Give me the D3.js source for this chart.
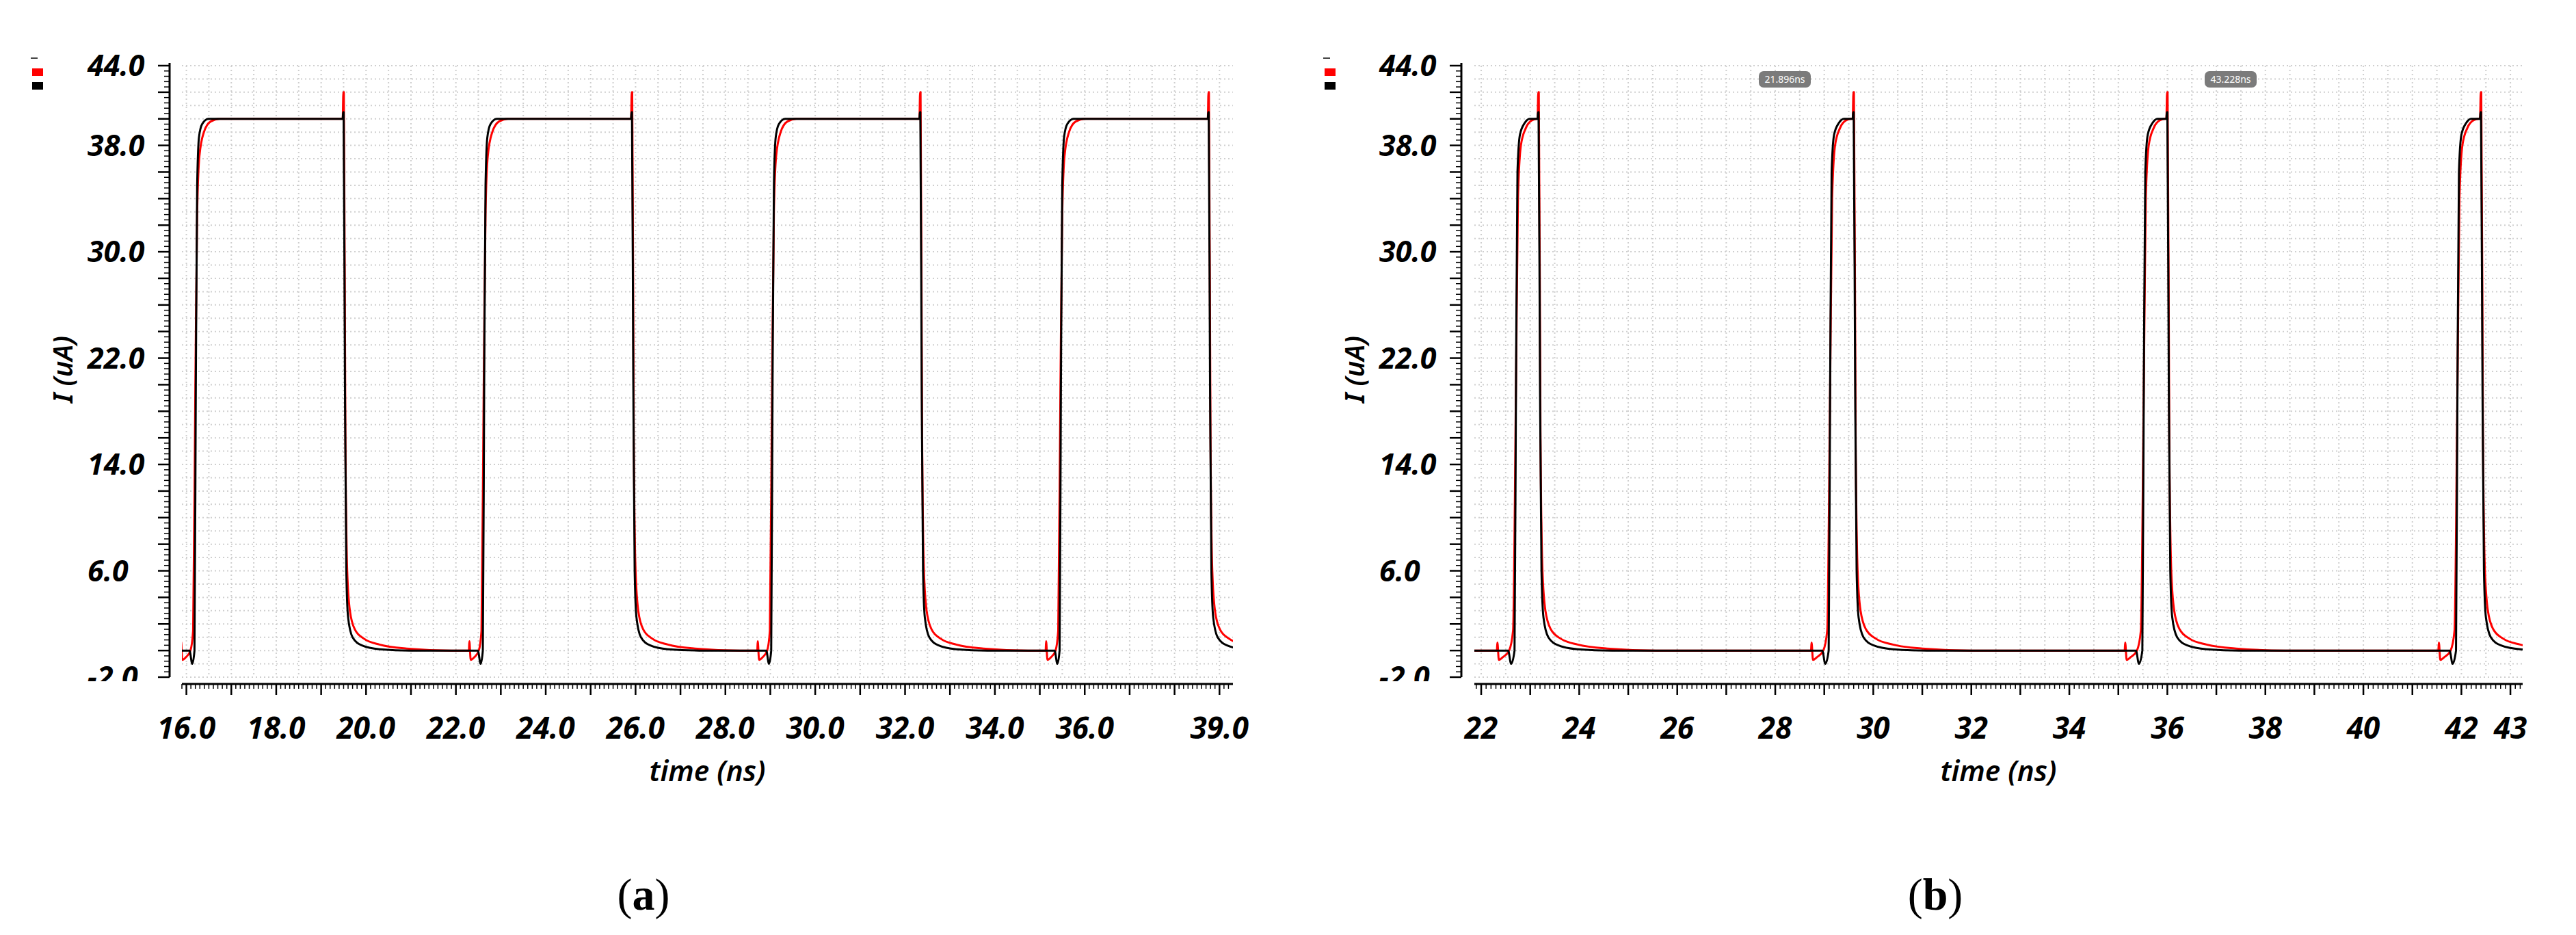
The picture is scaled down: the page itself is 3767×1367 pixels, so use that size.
<!DOCTYPE html>
<html><head><meta charset="utf-8">
<script src="https://cdn.jsdelivr.net/npm/d3@7"></script>
<style>body{margin:0;background:#fff}svg{display:block}</style>
</head><body>
<svg id="c" width="3767" height="1367"></svg>
<script>
// ---------- data ----------
const yTickVals = [44, 38, 30, 22, 14, 6, -2];
const yTickLabels = ["44.0", "38.0", "30.0", "22.0", "14.0", "6.0", "-2.0"];
const xTickValsA = [16, 18, 20, 22, 24, 26, 28, 30, 32, 34, 36, 39];
const xTickLabelsA = ["16.0","18.0","20.0","22.0","24.0","26.0","28.0","30.0","32.0","34.0","36.0","39.0"];
const xTickValsB = [22, 24, 26, 28, 30, 32, 34, 36, 38, 40, 42, 43];
const xTickLabelsB = ["22","24","26","28","30","32","34","36","38","40","42","43"];
// pulse edge times (ns)
const riseA = [16.19, 22.61, 29.03, 35.45];
const fallA = [19.50, 25.92, 32.34, 38.76];
const riseB = [22.69, 29.10, 35.50, 41.90];
const fallB = [23.17, 29.60, 36.00, 42.40];
const cursorLabels = ["21.896ns", "43.228ns"];
// waveform shapes: [offset from edge (ns), current (uA)]
const blackRise = [[-0.40,0],[-0.12,0],[-0.06,-1.0],[-0.01,0],[0.02,20],[0.05,35],[0.09,38.6],[0.16,39.6],[0.3,40]];
const blackFall = [[-0.02,40],[-0.01,40.5],[0,40.5],[0.03,20],[0.06,6],[0.1,2.5],[0.2,1.0],[0.4,0.4],[0.8,0.1],[1.5,0]];
const redRise  = [[-0.40,0],[-0.32,0],[-0.31,0.7],[-0.28,-0.7],[-0.2,-0.5],[-0.1,0],[-0.04,1.5],[0.01,20],[0.05,33],[0.1,37.2],[0.2,39.0],[0.35,39.8],[0.55,40]];
const redFall  = [[-0.02,40],[-0.005,42],[0.005,42],[0.04,16],[0.08,6],[0.14,3],[0.25,1.6],[0.45,0.9],[0.8,0.45],[1.4,0.15],[2.4,0]];
const blackRiseB = [[-0.40,0],[-0.14,0],[-0.08,-1.0],[-0.01,0],[0.02,20],[0.05,36],[0.1,38.8],[0.2,39.7],[0.3,40]];
const redRiseB  = [[-0.40,0],[-0.37,0],[-0.36,0.6],[-0.33,-0.7],[-0.25,-0.5],[-0.12,0],[-0.04,1.5],[0.02,20],[0.06,34],[0.12,38],[0.22,39.3],[0.35,39.9],[0.45,40]];

// ---------- drawing ----------
const svg = d3.select("#c");
const yScale = d3.scaleLinear().domain([-2, 44]).range([990, 96]);
const FONT = "'Noto Sans', 'Open Sans', sans-serif";

function build(rises, falls, riseT, fallT, t0, t1) {
  const pts = [[t0, 0]];
  rises.forEach((r, i) => {
    riseT.forEach(p => pts.push([r + p[0], p[1]]));
    fallT.forEach(p => pts.push([falls[i] + p[0], p[1]]));
  });
  pts.push([t1, 0]);
  return pts;
}

function panel(o) {
  const g = svg.append("g").attr("transform", `translate(${o.dx},0)`);
  const x = d3.scaleLinear().domain([o.t0, o.t1]).range([o.xl, o.xr]);
  const top = 96, bot = 990, axisX = o.axisX, axisY = 1000;
  const gridC = "#cfcfcf";
  d3.range(-2, 44.01, 1).forEach(v => g.append("line").attr("x1", o.xl).attr("x2", o.xr)
    .attr("y1", yScale(v)).attr("y2", yScale(v)).attr("stroke", gridC).attr("stroke-width", 2).attr("stroke-dasharray", "2,4"));
  d3.range(Math.ceil(o.t0 * 2) / 2, o.t1, 0.5).forEach(t => g.append("line").attr("x1", x(t)).attr("x2", x(t))
    .attr("y1", top).attr("y2", bot).attr("stroke", gridC).attr("stroke-width", 2).attr("stroke-dasharray", "2,4"));
  // y axis
  g.append("line").attr("x1", axisX).attr("x2", axisX).attr("y1", top - 4).attr("y2", bot).attr("stroke", "#000").attr("stroke-width", 3);
  d3.range(-2, 44.01, 0.4).forEach(v => {
    const major = Math.abs(Math.round(v) - v) < 1e-6 && Math.round(v) % 2 === 0;
    g.append("line").attr("x1", axisX - (major ? 17 : 8)).attr("x2", axisX).attr("y1", yScale(v)).attr("y2", yScale(v))
      .attr("stroke", "#000").attr("stroke-width", major ? 2.5 : 1.5);
  });
  const clipId = "clip" + o.dx;
  svg.append("clipPath").attr("id", clipId).append("rect").attr("x", 0).attr("y", 0).attr("width", 3767).attr("height", 996);
  const yl = g.append("g").attr("clip-path", `url(#${clipId})`);
  yTickVals.forEach((v, i) => yl.append("text").attr("x", axisX - 120).attr("y", yScale(v) + 15)
    .attr("font-family", FONT).attr("font-size", 43).attr("font-weight", "bold").attr("font-style", "italic")
    .text(yTickLabels[i]));
  g.append("text").attr("transform", `translate(${axisX - 142},540) rotate(-90)`).attr("text-anchor", "middle")
    .attr("font-family", FONT).attr("font-size", 40).attr("font-style", "italic").attr("font-weight", 600).text("I (uA)");
  // x axis
  g.append("line").attr("x1", o.xl).attr("x2", o.xr).attr("y1", axisY).attr("y2", axisY).attr("stroke", "#000").attr("stroke-width", 3);
  d3.range(Math.ceil(o.t0 * 10) / 10, o.t1, 0.1).forEach(t => {
    const tt = Math.round(t * 10) / 10;
    const major = Math.abs(tt - Math.round(tt)) < 1e-6;
    g.append("line").attr("x1", x(tt)).attr("x2", x(tt)).attr("y1", axisY).attr("y2", axisY + (major ? 16 : 7))
      .attr("stroke", "#000").attr("stroke-width", major ? 2.5 : 1.5);
  });
  o.ticks.forEach((t, i) => g.append("text").attr("x", x(t)).attr("y", 1080).attr("text-anchor", "middle")
    .attr("font-family", FONT).attr("font-size", 44).attr("font-weight", "bold").attr("font-style", "italic").text(o.labels[i]));
  g.append("text").attr("x", (o.xl + o.xr) / 2).attr("y", 1142).attr("text-anchor", "middle")
    .attr("font-family", FONT).attr("font-size", 42).attr("font-style", "italic").attr("font-weight", 600).text("time (ns)");
  // legend
  g.append("rect").attr("x", 45).attr("y", 84).attr("width", 10).attr("height", 2).attr("fill", "#444");
  g.append("rect").attr("x", 47).attr("y", 100).attr("width", 16).attr("height", 11).attr("fill", "#ff0000");
  g.append("rect").attr("x", 47).attr("y", 120).attr("width", 16).attr("height", 11).attr("fill", "#000");
  // curves
  const line = d3.line().curve(d3.curveMonotoneX).x(d => x(d[0])).y(d => yScale(d[1]));
  const clipP = "pc" + o.dx;
  svg.append("clipPath").attr("id", clipP).append("rect").attr("x", o.xl + o.dx).attr("y", 60).attr("width", o.xr - o.xl).attr("height", 940);
  const cg = svg.append("g").attr("clip-path", `url(#${clipP})`).append("g").attr("transform", `translate(${o.dx},0)`);
  cg.append("path").attr("d", line(build(o.rises, o.falls, o.redRise, redFall, o.t0, o.t1)))
    .attr("fill", "none").attr("stroke", "#ff0000").attr("stroke-width", 3).attr("stroke-linejoin", "round");
  cg.append("path").attr("d", line(build(o.rises, o.falls, o.blackRise, blackFall, o.t0, o.t1)))
    .attr("fill", "none").attr("stroke", "#000").attr("stroke-width", 3).attr("stroke-linejoin", "round");
  // caption
  svg.append("text").attr("x", o.capX).attr("y", 1330).attr("text-anchor", "middle")
    .attr("font-family", "'Liberation Serif', serif").attr("font-size", 66)
    .html(`(<tspan font-weight="bold">${o.cap}</tspan>)`);
  return { g, x };
}

panel({ dx: 0, axisX: 248, xl: 266, xr: 1803, t0: 15.9, t1: 39.3, ticks: xTickValsA, labels: xTickLabelsA,
  rises: riseA, falls: fallA, redRise: redRise, blackRise: blackRise, cap: "a", capX: 941 });
const pb = panel({ dx: 1890, axisX: 247, xl: 266, xr: 1799, t0: 21.86, t1: 43.25, ticks: xTickValsB, labels: xTickLabelsB,
  rises: riseB, falls: fallB, redRise: redRiseB, blackRise: blackRiseB, cap: "b", capX: 2830 });

// cursor markers in panel (b)
const cx = [2610 - 1890, 3262 - 1890];
cursorLabels.forEach((lab, i) => {
  const gg = pb.g.append("g").attr("transform", `translate(${cx[i]},116)`);
  gg.append("rect").attr("x", -38).attr("y", -12).attr("width", 76).attr("height", 24).attr("rx", 7).attr("fill", "#7b7b7b");
  gg.append("text").attr("y", 5).attr("text-anchor", "middle").attr("fill", "#fff")
    .attr("font-family", FONT).attr("font-size", 14).text(lab);
});
</script>
</body></html>
